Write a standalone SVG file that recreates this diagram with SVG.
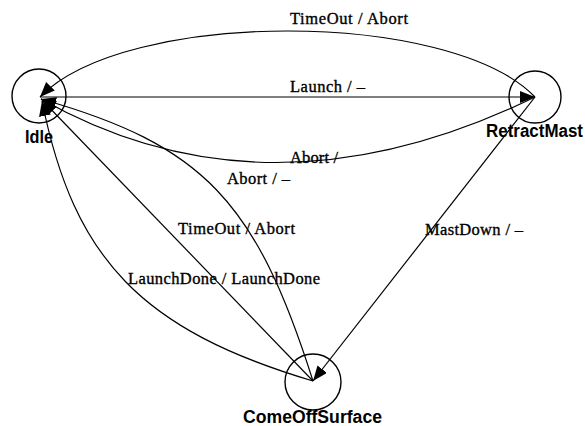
<svg xmlns="http://www.w3.org/2000/svg" width="585" height="426" viewBox="0 0 585 426">
  <style>
    .state { fill: none; stroke: #000; stroke-width: 1.4; }
    .edge { fill: none; stroke: #000; stroke-width: 1.2; marker-end: url(#arrow); }
    .name { font-family: "Liberation Sans", Arial, sans-serif; font-weight: bold; font-size: 17.5px; fill: #000; }
    .label { font-family: "Liberation Serif", "Times New Roman", serif; font-size: 16.5px; fill: #000; stroke: #000; stroke-width: 0.35; }
  </style>
  <defs>
    <marker id="arrow" markerUnits="userSpaceOnUse" markerWidth="18" markerHeight="14" refX="15" refY="6" orient="auto">
      <path d="M0,0 L15,6 L0,12 Z" fill="#000"/>
    </marker>
  </defs>
  <rect width="585" height="426" fill="#fff"/>

  <!-- states -->
  <g id="idle">
    <circle class="state" cx="39" cy="96" r="27"/>
    <text class="name" x="25" y="143" textLength="28" lengthAdjust="spacingAndGlyphs">Idle</text>
  </g>
  <g id="retract-mast">
    <circle class="state" cx="535" cy="97" r="26"/>
    <text class="name" x="486" y="137" textLength="97" lengthAdjust="spacingAndGlyphs">RetractMast</text>
  </g>
  <g id="come-off-surface">
    <circle class="state" cx="313" cy="382" r="28"/>
    <text class="name" x="243" y="423" textLength="139" lengthAdjust="spacingAndGlyphs">ComeOffSurface</text>
  </g>

  <!-- transitions -->
  <g id="transitions">
    <path class="edge" d="M535,97 C450,9 125,9 40,97"/>
    <path class="edge" d="M40,97 L535,97"/>
    <path class="edge" d="M535,97 Q268,227 41,99"/>
    <path class="edge" d="M313,381 C256,201 203,145 41,99"/>
    <path class="edge" d="M313,381 L42,100"/>
    <path class="edge" d="M313,381 C142,330 74,260 42,101"/>
    <path class="edge" d="M535,97 L313,381"/>
  </g>

  <!-- transition labels -->
  <g id="labels">
    <text class="label" x="290" y="24" textLength="118">TimeOut / Abort</text>
    <text class="label" x="290" y="92" textLength="75">Launch / –</text>
    <text class="label" x="290" y="163" textLength="48">Abort /</text>
    <text class="label" x="227" y="184" textLength="63">Abort / –</text>
    <text class="label" x="178" y="234" textLength="117">TimeOut / Abort</text>
    <text class="label" x="128" y="284" textLength="192">LaunchDone / LaunchDone</text>
    <text class="label" x="425" y="235" textLength="98">MastDown / –</text>
  </g>
</svg>
